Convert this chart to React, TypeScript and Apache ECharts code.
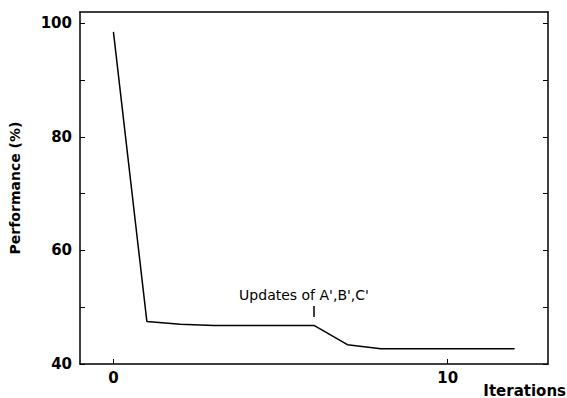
import React, { useEffect, useRef } from "react";
import * as echarts from "echarts";

const iterations = [0, 1, 2, 3, 4, 5, 6, 7, 8, 9, 10, 11, 12];
const performance = [98.5, 47.5, 47.0, 46.8, 46.8, 46.8, 46.8, 43.4, 42.7, 42.7, 42.7, 42.7, 42.7];
const xTickLabels = [0, 10];
const yTickLabels = [40, 60, 80, 100];
const yTicks = [40, 50, 60, 70, 80, 90, 100];
const annotationText = "Updates of A',B',C'";
const annotationX = 6;
const annotationFrom = 48.3;
const annotationTo = 50.2;

export default function App() {
  const ref = useRef<HTMLDivElement>(null);
  useEffect(() => {
    if (!ref.current) return;
    const chart = echarts.init(ref.current, null, { renderer: "svg" });
    const font = "'DejaVu Sans', Arial, sans-serif";
    const axisLine = { show: true, onZero: false, lineStyle: { color: "#000", width: 1.5 } };
    chart.setOption({
      animation: false,
      backgroundColor: "#fff",
      grid: { left: 80, top: 12, right: 19, bottom: 34 },
      xAxis: [
        {
          type: "value",
          min: -1,
          max: 13,
          position: "bottom",
          axisLine,
          splitLine: { show: false },
          axisTick: { inside: true, length: 5, customValues: xTickLabels, lineStyle: { color: "#000" } },
          axisLabel: {
            customValues: xTickLabels,
            color: "#000",
            fontFamily: font,
            fontWeight: "bold",
            fontSize: 15,
            margin: 6,
          },
        },
        {
          type: "value",
          min: -1,
          max: 13,
          position: "top",
          axisLine,
          splitLine: { show: false },
          axisTick: { show: false },
          axisLabel: { show: false },
        },
      ],
      yAxis: [
        {
          type: "value",
          min: 40,
          max: 102,
          position: "left",
          name: "Performance (%)",
          nameLocation: "middle",
          nameGap: 58,
          nameTextStyle: { color: "#000", fontFamily: font, fontWeight: "bold", fontSize: 14 },
          axisLine,
          splitLine: { show: false },
          axisTick: { inside: true, length: 5, customValues: yTicks, lineStyle: { color: "#000" } },
          axisLabel: {
            customValues: yTickLabels,
            color: "#000",
            fontFamily: font,
            fontWeight: "bold",
            fontSize: 15,
            margin: 8,
          },
        },
        {
          type: "value",
          min: 40,
          max: 102,
          position: "right",
          axisLine,
          splitLine: { show: false },
          axisTick: { inside: true, length: 5, customValues: yTicks, lineStyle: { color: "#000" } },
          axisLabel: { show: false },
        },
      ],
      graphic: [
        {
          type: "text",
          right: 1,
          top: 383,
          style: {
            text: "Iterations",
            fill: "#000",
            font: `bold 15px ${font}`,
          },
        },
      ],
      series: [
        {
          type: "line",
          data: iterations.map((x, i) => [x, performance[i]]),
          symbol: "none",
          lineStyle: { color: "#000", width: 1.5 },
          markLine: {
            silent: true,
            symbol: "none",
            lineStyle: { color: "#000", width: 1.5, type: "solid" },
            label: {
              show: true,
              position: "end",
              formatter: annotationText,
              color: "#000",
              fontFamily: font,
              fontSize: 14,
              distance: 4,
              offset: [-10, 0],
            },
            data: [[{ coord: [annotationX, annotationFrom] }, { coord: [annotationX, annotationTo] }]],
          },
        },
      ],
    });
    return () => chart.dispose();
  }, []);
  return <div ref={ref} style={{ width: 567, height: 398, position: "fixed", left: 0, top: 0 }} />;
}
